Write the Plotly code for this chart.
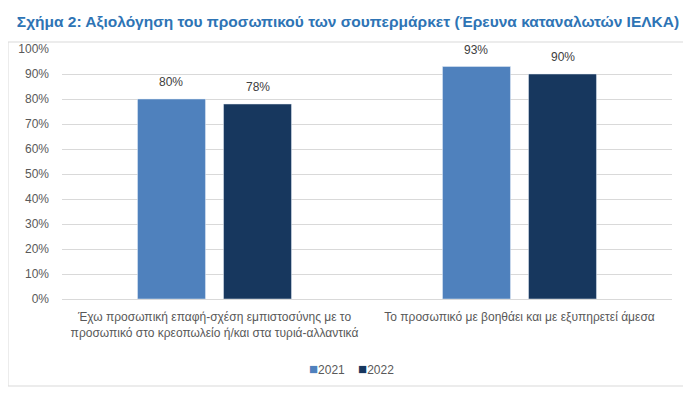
import plotly.graph_objects as go

categories = [
    "Έχω προσωπική επαφή-σχέση εμπιστοσύνης με το<br>προσωπικό στο κρεοπωλείο ή/και στα τυριά-αλλαντικά",
    "Το προσωπικό με βοηθάει και με εξυπηρετεί άμεσα",
]
values_2021 = [80, 93]
values_2022 = [78, 90]
series_names = ["2021", "2022"]
series_colors = ["#4F81BD", "#17375E"]
tick_vals = [0, 10, 20, 30, 40, 50, 60, 70, 80, 90, 100]
tick_text = [f"{v}%" for v in tick_vals]

# the page body has an 8px margin, so figure coords = screen coords - 8
OFF = 8
W, H = 691, 393
L = 62 - OFF
T = 49 - OFF
R = W - (672 - OFF)
B = H - (299 - OFF)
pw, ph = W - L - R, H - T - B
BARGAP, GROUPGAP = 0.436, 0.21
slot = pw / len(categories) * (1 - BARGAP) / 2

def px_x(x):
    return (x - OFF - L) / pw

def px_y(y):
    return (H - B - (y - OFF)) / ph

fig = go.Figure()
all_series = [values_2021, values_2022]
for name, vals, col in zip(series_names, all_series, series_colors):
    fig.add_trace(go.Bar(
        x=categories, y=vals, name=name, marker_color=col, showlegend=False,
    ))

annotations = []
for i, vals in enumerate(all_series):
    shift = (i - 0.5) * slot
    for cat, v in zip(categories, vals):
        annotations.append(dict(
            x=cat, y=v, xref="x", yref="y", text=f"{v}%", showarrow=False,
            xshift=shift, yshift=17, yanchor="middle",
            font=dict(size=12, color="#404040"),
        ))

legend_text = "    ".join(
    f"<span style='color:{c};font-size:15px'>■</span>{n}"
    for n, c in zip(series_names, series_colors)
)
annotations.append(dict(
    x=px_x(351), xref="paper", y=px_y(368), yref="paper",
    text=legend_text, showarrow=False, xanchor="center", yanchor="middle",
    font=dict(size=12, color="#595959"),
))

fig.update_layout(
    width=W, height=H,
    margin=dict(l=L, r=R, t=T, b=B, autoexpand=False),
    paper_bgcolor="white", plot_bgcolor="white",
    font=dict(family="Liberation Sans, Arial, sans-serif", color="#595959", size=12),
    barmode="group", bargap=BARGAP, bargroupgap=GROUPGAP,
    showlegend=False,
    annotations=annotations,
    title=dict(
        text="<b>Σχήμα 2: Αξιολόγηση του προσωπικού των σουπερμάρκετ (Έρευνα καταναλωτών ΙΕΛΚΑ)</b>",
        x=(348 - OFF) / W, xanchor="center", xref="container",
        y=1 - (22 - OFF) / H, yref="container", yanchor="middle",
        font=dict(size=15.5, color="#2E74B5"),
    ),
    shapes=[dict(
        type="rect", xref="paper", yref="paper",
        x0=px_x(8), x1=px_x(684), y0=px_y(386), y1=px_y(42),
        line=dict(color="#D9D9D9", width=1), fillcolor="rgba(0,0,0,0)", layer="below",
    )],
)
fig.update_yaxes(
    range=[0, 100], tickvals=tick_vals, ticktext=tick_text,
    showgrid=True, gridcolor="#D9D9D9", gridwidth=1, zeroline=False,
    showline=False, ticks="", ticklabelstandoff=12,
)
fig.update_xaxes(
    showline=True, linecolor="#D9D9D9", ticks="", ticklabelstandoff=7,
    tickfont=dict(size=12, color="#595959"),
)

fig.write_html("out.html")
